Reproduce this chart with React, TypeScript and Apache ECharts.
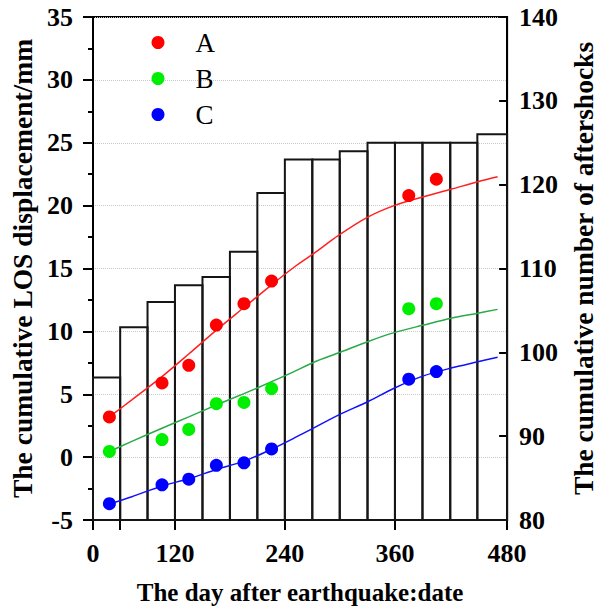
import React, { useEffect, useRef } from "react";
import * as echarts from "echarts";

// Aftershock histogram (right axis)
const binEdges = [0, 31.5, 63.2, 95, 126.9, 158.7, 190.5, 222.4, 254.2, 286, 318.2, 350, 381.9, 414.1, 445.5, 480];
const aftershockCounts = [97, 103, 106, 108, 109, 112, 119, 123, 123, 124, 125, 125, 125, 125, 126];

// Observed LOS displacement (left axis)
const obsDays = [19, 80, 111, 143, 175, 207, 366, 398];
const obsA = [3.2, 5.9, 7.3, 10.5, 12.2, 14.0, 20.8, 22.1];
const obsB = [0.45, 1.4, 2.2, 4.25, 4.35, 5.45, 11.8, 12.2];
const obsC = [-3.7, -2.2, -1.75, -0.65, -0.45, 0.65, 6.2, 6.8];

// Fitted curves
const fitDays = [19, 45, 80, 111, 143, 175, 207, 233, 256, 285, 319, 349, 383, 415, 446, 469];
const fitA = [3.2, 4.55, 6.4, 8.2, 10.1, 11.9, 13.7, 15.1, 16.2, 17.65, 19.1, 20.0, 20.7, 21.3, 21.9, 22.3];
const fitB = [0.45, 1.25, 2.3, 3.2, 4.15, 5.05, 6.0, 6.8, 7.55, 8.3, 9.2, 9.9, 10.5, 11.05, 11.45, 11.75];
const fitC = [-3.72, -3.15, -2.29, -1.72, -0.98, -0.32, 0.63, 1.51, 2.33, 3.36, 4.42, 5.48, 6.46, 7.08, 7.58, 7.95];

// x axis ticks and labels
const xTickValues = [0, 31.5, 95, 222.4, 350, 480];
const xLabelValues = [0, 95, 222.4, 350, 480];
const xLabelTexts = ["0", "120", "240", "360", "480"];

const legendNames = ["A", "B", "C"];

const FONT = "'Liberation Serif', 'Times New Roman', serif";

const pair = (xs: number[], ys: number[]) => xs.map((x, i) => [x, ys[i]]);

export default function App() {
  const ref = useRef<HTMLDivElement>(null);
  useEffect(() => {
    const chart = echarts.init(ref.current!, null, { renderer: "svg" });
    const vNameStyle = {
      fontFamily: FONT,
      fontWeight: "bold" as const,
      fontSize: 27.5,
      color: "#000",
    };
    const hNameStyle = {
      fontFamily: FONT,
      fontWeight: "bold" as const,
      fontSize: 25,
      color: "#000",
    };
    const barData = aftershockCounts.map((c, i) => [binEdges[i], binEdges[i + 1], c]);
    chart.setOption({
      animation: false,
      backgroundColor: "#fff",
      grid: {
        left: 93,
        right: 85,
        top: 17,
        bottom: 92,
        show: true,
        borderColor: "#000",
        borderWidth: 2,
        backgroundColor: "transparent",
      },
      legend: {
        data: legendNames,
        orient: "vertical",
        left: 151.5,
        top: 29,
        padding: 0,
        itemWidth: 13,
        itemHeight: 13,
        itemGap: 9,
        icon: "circle",
        textStyle: {
          fontFamily: FONT,
          fontSize: 27,
          color: "#000",
          lineHeight: 26,
          padding: [0, 0, 0, 26],
        },
      },
      xAxis: {
        type: "value",
        min: 0,
        max: 480,
        name: "The day after earthquake:date",
        nameLocation: "middle",
        nameGap: 60,
        nameTextStyle: hNameStyle,
        axisLine: { show: true, onZero: false, lineStyle: { color: "#000", width: 2 } },
        axisTick: {
          show: true,
          inside: false,
          length: 10,
          customValues: xTickValues,
          lineStyle: { color: "#000", width: 2 },
        },
        axisLabel: {
          fontFamily: FONT,
          fontWeight: 700,
          fontSize: 26,
          color: "#000",
          margin: 20,
          customValues: xLabelValues,
          formatter: (v: number) => {
            const i = xLabelValues.findIndex((t) => Math.abs(t - v) < 0.01);
            return i >= 0 ? xLabelTexts[i] : "";
          },
        },
        splitLine: { show: false },
      },
      yAxis: [
        {
          type: "value",
          min: -5,
          max: 35,
          interval: 5,
          name: "The cumulative LOS displacement/mm",
          nameLocation: "middle",
          nameRotate: 90,
          nameGap: 56,
          nameTextStyle: vNameStyle,
          axisLine: { show: true, lineStyle: { color: "#000", width: 2 } },
          axisTick: { show: true, inside: false, length: 10, lineStyle: { color: "#000", width: 2 } },
          minorTick: { show: true, splitNumber: 2, length: 5, lineStyle: { color: "#000", width: 2 } },
          axisLabel: { fontFamily: FONT, fontWeight: 700, fontSize: 26, color: "#000", margin: 20 },
          splitLine: { show: true, lineStyle: { color: "#c8c8c8", width: 1, type: "dotted" } },
        },
        {
          type: "value",
          min: 80,
          max: 140,
          interval: 10,
          position: "right",
          name: "The cumulative number of aftershocks",
          nameLocation: "middle",
          nameRotate: 90,
          nameGap: 52,
          nameTextStyle: vNameStyle,
          axisLine: { show: true, lineStyle: { color: "#000", width: 2 } },
          axisTick: { show: true, inside: true, length: 8, lineStyle: { color: "#000", width: 2 } },
          axisLabel: { fontFamily: FONT, fontWeight: 700, fontSize: 26, color: "#000", margin: 12 },
          splitLine: { show: false },
        },
      ],
      series: [
        {
          type: "custom",
          name: "aftershocks",
          yAxisIndex: 1,
          z: 1,
          data: barData,
          renderItem: (params: any, api: any) => {
            const p1 = api.coord([api.value(0), api.value(2)]);
            const p2 = api.coord([api.value(1), 80]);
            return {
              type: "rect",
              shape: { x: p1[0], y: p1[1], width: p2[0] - p1[0], height: p2[1] - p1[1] },
              style: { fill: "none", stroke: "#151515", lineWidth: 2 },
            };
          },
        },
        {
          type: "line",
          name: "fitA",
          data: pair(fitDays, fitA),
          smooth: 0.3,
          showSymbol: false,
          symbol: "none",
          lineStyle: { color: "#ff2020", width: 1.5 },
          z: 3,
        },
        {
          type: "line",
          name: "fitB",
          data: pair(fitDays, fitB),
          smooth: 0.3,
          showSymbol: false,
          symbol: "none",
          lineStyle: { color: "#2aaa48", width: 1.5 },
          z: 3,
        },
        {
          type: "line",
          name: "fitC",
          data: pair(fitDays, fitC),
          smooth: 0.3,
          showSymbol: false,
          symbol: "none",
          lineStyle: { color: "#1010ff", width: 1.5 },
          z: 3,
        },
        {
          type: "scatter",
          name: "A",
          data: pair(obsDays, obsA),
          symbol: "circle",
          symbolSize: 13,
          itemStyle: { color: "#ff0000", opacity: 1 },
          z: 4,
        },
        {
          type: "scatter",
          name: "B",
          data: pair(obsDays, obsB),
          symbol: "circle",
          symbolSize: 13,
          itemStyle: { color: "#00ee00", opacity: 1 },
          z: 4,
        },
        {
          type: "scatter",
          name: "C",
          data: pair(obsDays, obsC),
          symbol: "circle",
          symbolSize: 13,
          itemStyle: { color: "#0000ff", opacity: 1 },
          z: 4,
        },
      ],
    });
    return () => chart.dispose();
  }, []);
  return (
    <div
      ref={ref}
      style={{ position: "fixed", left: 0, top: 0, width: 605, height: 612, background: "#fff" }}
    />
  );
}
